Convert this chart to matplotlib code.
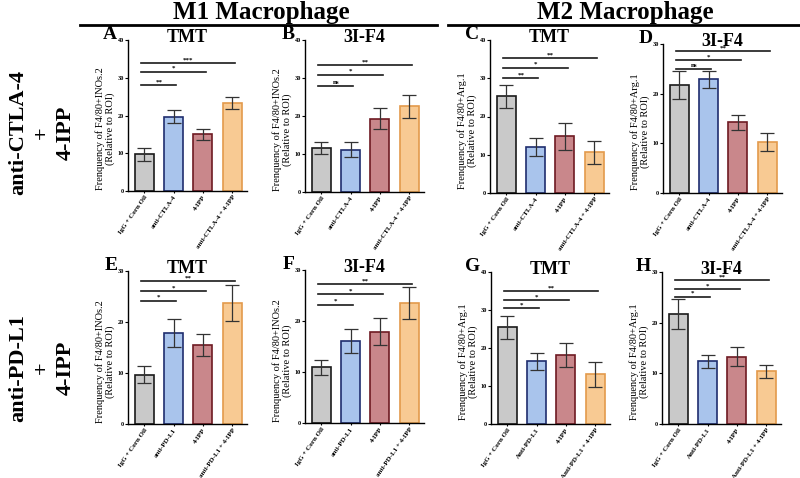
import matplotlib
matplotlib.use("Agg")
import matplotlib.pyplot as plt
import numpy as np

matplotlib.rcParams.update({'font.family': 'Liberation Serif', 'font.weight': 'bold'})

# group names
groups_ctla = ["IgG + Corn Oil", "anti-CTLA-4", "4-IPP", "anti-CTLA-4 + 4-IPP"]
groups_pdl1 = ["IgG + Corn Oil", "anti-PD-L1", "4-IPP", "anti-PD-L1 + 4-IPP"]
groups_pdl1_cap = ["IgG + Corn Oil", "Anti-PD-L1", "4-IPP", "Anti-PD-L1 + 4-IPP"]

# panel values (mean, sem), significance marks and their heights
A_mean = [9.7, 19.7, 15.0, 23.4]
A_err = [1.8, 1.8, 1.4, 1.6]
A_sig = ["**", "*", "***"]
A_sig_y = [28.1, 31.6, 33.9]

B_mean = [11.6, 11.1, 19.3, 22.5]
B_err = [1.6, 2.0, 2.8, 3.0]
B_sig = ["ns", "*", "**"]
B_sig_y = [27.9, 30.9, 33.3]

C_mean = [25.3, 12.0, 14.8, 10.6]
C_err = [3.0, 2.3, 3.5, 3.0]
C_sig = ["**", "*", "**"]
C_sig_y = [30.1, 32.8, 35.2]

D_mean = [21.7, 22.9, 14.2, 10.2]
D_err = [2.8, 1.7, 1.5, 1.8]
D_sig = ["ns", "*", "**"]
D_sig_y = [25.0, 26.8, 28.5]

E_mean = [9.7, 17.8, 15.5, 23.7]
E_err = [1.7, 2.7, 2.1, 3.6]
E_sig = ["*", "*", "**"]
E_sig_y = [24.2, 26.1, 28.0]

F_mean = [10.9, 16.1, 17.9, 23.5]
F_err = [1.5, 2.3, 2.6, 3.2]
F_sig = ["*", "*", "**"]
F_sig_y = [23.2, 25.3, 27.2]

G_mean = [25.4, 16.5, 18.1, 13.1]
G_err = [2.9, 2.2, 3.2, 3.3]
G_sig = ["*", "*", "**"]
G_sig_y = [30.4, 32.6, 34.9]

H_mean = [21.7, 12.4, 13.3, 10.4]
H_err = [2.9, 1.3, 1.9, 1.3]
H_sig = ["*", "*", "**"]
H_sig_y = [25.1, 26.6, 28.4]

fills = ['#c9c9c9', '#a9c4ec', '#c9878b', '#f8ca93']
edges = ['#1a1a1a', '#1f2d6e', '#6e1a22', '#e39a4c']

ylab_m1 = "Frenquency of F4/80+INOs.2\n(Relative to ROI)"
ylab_m2 = "Frenquency of F4/80+Arg.1\n(Relative to ROI)"

W, H = 800, 478
fig = plt.figure(figsize=(8, 4.78), dpi=100)

def px_axes(left, top, right, bottom):
    return fig.add_axes([left / W, 1 - bottom / H, (right - left) / W, (bottom - top) / H])

# letter, box(left, top, right, bottom), title, data, ymax, ylabel, groups
panels = [
    ("A", (128, 40, 247, 191), "TMT", A_mean, A_err, A_sig, A_sig_y, 40, ylab_m1, groups_ctla),
    ("B", (305, 40, 424, 192), "3I-F4", B_mean, B_err, B_sig, B_sig_y, 40, ylab_m1, groups_ctla),
    ("C", (490, 40, 609, 193), "TMT", C_mean, C_err, C_sig, C_sig_y, 40, ylab_m2, groups_ctla),
    ("D", (663, 44, 782, 193), "3I-F4", D_mean, D_err, D_sig, D_sig_y, 30, ylab_m2, groups_ctla),
    ("E", (128, 271, 247, 424), "TMT", E_mean, E_err, E_sig, E_sig_y, 30, ylab_m1, groups_pdl1),
    ("F", (305, 270, 424, 423), "3I-F4", F_mean, F_err, F_sig, F_sig_y, 30, ylab_m1, groups_pdl1),
    ("G", (491, 272, 610, 424), "TMT", G_mean, G_err, G_sig, G_sig_y, 40, ylab_m2, groups_pdl1_cap),
    ("H", (662, 272, 781, 424), "3I-F4", H_mean, H_err, H_sig, H_sig_y, 30, ylab_m2, groups_pdl1_cap),
]

for letter, box, title, mean, err, sig, sig_y, ymax, ylab, groups in panels:
    ax = px_axes(*box)
    h_px = box[3] - box[1]
    x = np.arange(len(mean))
    ax.bar(x, mean, width=0.65, color=fills, edgecolor=edges, linewidth=1.2, zorder=2)
    ax.errorbar(x, mean, yerr=err, fmt='none', ecolor='#333333', elinewidth=0.9,
                capsize=5, capthick=0.9, zorder=3)
    for j, (s, yy) in enumerate(zip(sig, sig_y)):
        x0, x1 = -0.1, j + 1 + 0.1
        ax.plot([x0, x1], [yy, yy], color='#1a1a1a', lw=1.2, zorder=3)
        ax.text((x0 + x1) / 2, yy + ymax * 0.005, s, ha='center', va='bottom', fontsize=5)
    ax.set_xlim(-0.55, 3.5)
    ax.set_ylim(0, ymax)
    ax.set_yticks(np.arange(0, ymax + 1, 10))
    ax.set_xticks(x)
    ax.set_xticklabels(groups, rotation=55, ha='right', rotation_mode='anchor', fontsize=5)
    ax.tick_params(axis='y', labelsize=4.5, length=2, width=0.8, pad=1)
    ax.tick_params(axis='x', length=1.5, width=0.8, pad=1)
    for sp in ['top', 'right']:
        ax.spines[sp].set_visible(False)
    for sp in ['left', 'bottom']:
        ax.spines[sp].set_linewidth(1.0)
    ax.set_ylabel(ylab, fontsize=7.5, linespacing=1.1)
    ax.yaxis.set_label_coords(-13 / 119, 0.41)
    ax.text(0.5, 1 - 2 / h_px, title, transform=ax.transAxes, ha='center', va='baseline', fontsize=13)
    ax.text(-0.09, 1 + 1 / h_px, letter, transform=ax.transAxes, ha='right', va='baseline', fontsize=14)

# group headers
fig.text(261 / W, 1 - 19 / H, "M1 Macrophage", ha='center', va='baseline', fontsize=18)
fig.text(625 / W, 1 - 19 / H, "M2 Macrophage", ha='center', va='baseline', fontsize=18)
fig.add_artist(plt.Line2D([80 / W, 437 / W], [1 - 25 / H, 1 - 25 / H], color='black', lw=2))
fig.add_artist(plt.Line2D([448 / W, 800 / W], [1 - 25 / H, 1 - 25 / H], color='black', lw=2))

# row labels
fig.text(42 / W, 1 - 133 / H, "anti-CTLA-4\n+\n4-IPP", rotation=90, ha='center', va='center',
         fontsize=16, linespacing=1.25, multialignment='center')
fig.text(42 / W, 1 - 368 / H, "anti-PD-L1\n+\n4-IPP", rotation=90, ha='center', va='center',
         fontsize=16, linespacing=1.25, multialignment='center')

fig.savefig("out.png", dpi=100)
